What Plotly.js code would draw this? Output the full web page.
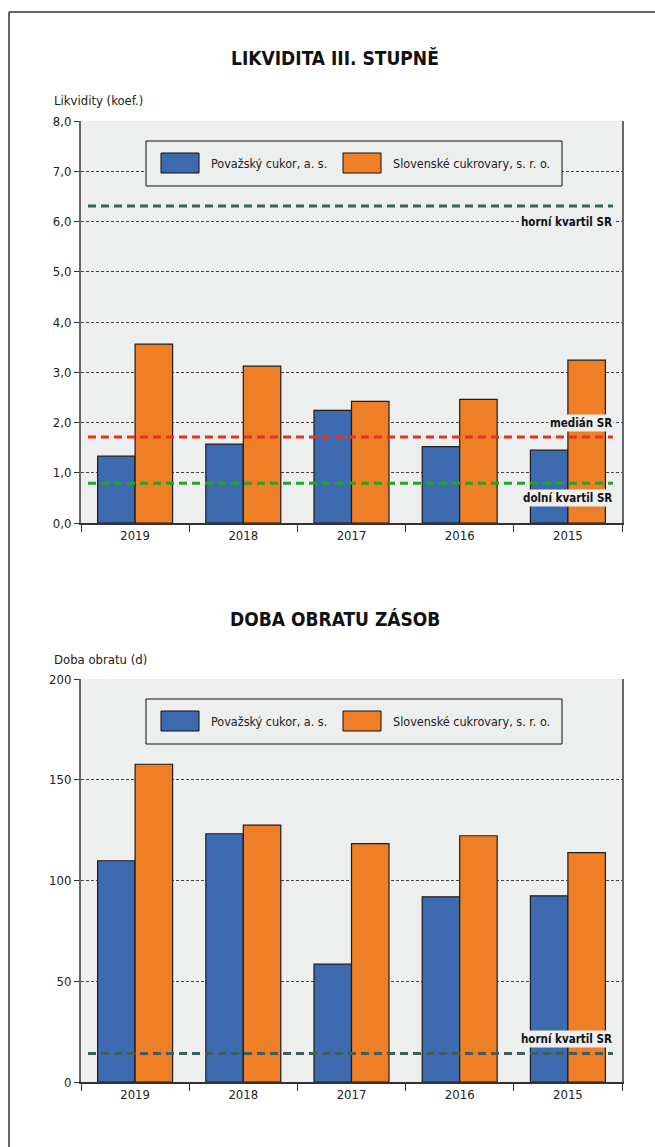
<!DOCTYPE html>
<html>
<head>
<meta charset="utf-8">
<script src="https://cdn.plot.ly/plotly-3.0.1.min.js"></script>
<style>html,body{margin:0;padding:0;background:#fff;}#chart{width:655px;height:1147px;}</style>
</head>
<body>
<div id="chart"></div>
<script>
// ---- data ----
const years = ['2019', '2018', '2017', '2016', '2015'];
const seriesNames = ['Považský cukor, a. s.', 'Slovenské cukrovary, s. r. o.'];

const liqPovazsky = [1.33, 1.57, 2.24, 1.52, 1.45];
const liqSlovenske = [3.56, 3.12, 2.42, 2.46, 3.24];
const liqRefNames = ['horní kvartil SR', 'medián SR', 'dolní kvartil SR'];
const liqRefValues = [6.31, 1.71, 0.79];
const liqLabelPos = [6.0, 2.0, 0.5];

const turnPovazsky = [109.8, 123.2, 58.5, 91.9, 92.4];
const turnSlovenske = [157.7, 127.5, 118.3, 122.2, 113.8];
const turnRefNames = ['horní kvartil SR'];
const turnRefValues = [14.1];
const turnLabelPos = [21.5];

const titles = ['LIKVIDITA III. STUPNĚ', 'DOBA OBRATU ZÁSOB'];
const yTitles = ['Likvidity (koef.)', 'Doba obratu (d)'];

// ---- layout helpers ----
const W = 655, H = 1147;
const px = x => x / W;
const py = y => 1 - y / H;
const FONT = '"DejaVu Sans Condensed", "Liberation Sans Narrow", "Arial Narrow", sans-serif';
const BLUE = '#3E6AAF', ORANGE = '#EE7F26', PLOTBG = '#EDEEEE';
const refColors1 = ['#3F5F5F', '#E8321E', '#22A32A'];
const refColors2 = ['#3F5F5F'];

const plotTop = [121, 679], plotBot = [523, 1082];

const traces = [
  {type: 'bar', x: years, y: liqPovazsky, name: seriesNames[0], xaxis: 'x', yaxis: 'y',
   marker: {color: BLUE, line: {color: '#1c1c1c', width: 1.2}}, showlegend: false},
  {type: 'bar', x: years, y: liqSlovenske, name: seriesNames[1], xaxis: 'x', yaxis: 'y',
   marker: {color: ORANGE, line: {color: '#1c1c1c', width: 1.2}}, showlegend: false},
  {type: 'bar', x: years, y: turnPovazsky, name: seriesNames[0], xaxis: 'x2', yaxis: 'y2',
   marker: {color: BLUE, line: {color: '#1c1c1c', width: 1.2}}, showlegend: false},
  {type: 'bar', x: years, y: turnSlovenske, name: seriesNames[1], xaxis: 'x2', yaxis: 'y2',
   marker: {color: ORANGE, line: {color: '#1c1c1c', width: 1.2}}, showlegend: false}
];

const shapes = [];
const annotations = [];

// outer frame (open at right and bottom)
shapes.push({type: 'line', xref: 'paper', yref: 'paper', x0: px(9), x1: px(700), y0: py(12), y1: py(12), line: {color: '#333', width: 1.5}});
shapes.push({type: 'line', xref: 'paper', yref: 'paper', x0: px(9), x1: px(9), y0: py(12), y1: py(1200), line: {color: '#333', width: 1.5}});

function addRefs(names, values, labelPos, colors, yref) {
  values.forEach((v, i) => {
    shapes.push({type: 'line', xref: 'paper', yref: yref, x0: px(88), x1: px(613), y0: v, y1: v,
      line: {color: colors[i], width: 3, dash: '8px,5px'}, layer: 'above'});
    annotations.push({xref: 'paper', yref: yref, x: px(614), y: labelPos[i], xanchor: 'right', yanchor: 'middle',
      text: names[i], showarrow: false, bgcolor: PLOTBG, borderpad: 1,
      font: {family: FONT, size: 11.5, color: '#111', weight: 'bold'}});
  });
}
addRefs(liqRefNames, liqRefValues, liqLabelPos, refColors1, 'y');
addRefs(turnRefNames, turnRefValues, turnLabelPos, refColors2, 'y2');

// custom legends, titles, y titles
[0, 1].forEach(k => {
  const off = k === 0 ? 0 : 558;
  shapes.push({type: 'rect', xref: 'paper', yref: 'paper', x0: px(146), x1: px(562), y0: py(141 + off), y1: py(186 + off),
    fillcolor: PLOTBG, line: {color: '#111', width: 1}, layer: 'above'});
  shapes.push({type: 'rect', xref: 'paper', yref: 'paper', x0: px(161), x1: px(199), y0: py(153 + off), y1: py(173 + off),
    fillcolor: BLUE, line: {color: '#111', width: 1}, layer: 'above'});
  shapes.push({type: 'rect', xref: 'paper', yref: 'paper', x0: px(343), x1: px(381), y0: py(153 + off), y1: py(173 + off),
    fillcolor: ORANGE, line: {color: '#111', width: 1}, layer: 'above'});
  annotations.push({xref: 'paper', yref: 'paper', x: px(209), y: py(163 + off), xanchor: 'left', yanchor: 'middle',
    text: seriesNames[0], showarrow: false, font: {family: FONT, size: 12.5, color: '#222'}});
  annotations.push({xref: 'paper', yref: 'paper', x: px(391), y: py(163 + off), xanchor: 'left', yanchor: 'middle',
    text: seriesNames[1], showarrow: false, font: {family: FONT, size: 12.5, color: '#222'}});
  annotations.push({xref: 'paper', yref: 'paper', x: px(335), y: py(k === 0 ? 58 : 619), xanchor: 'center', yanchor: 'middle',
    text: titles[k], showarrow: false, font: {family: FONT, size: 19, color: '#111', weight: 'bold'}});
  annotations.push({xref: 'paper', yref: 'paper', x: px(52), y: py(k === 0 ? 101 : 659), xanchor: 'left', yanchor: 'middle',
    text: yTitles[k], showarrow: false, font: {family: FONT, size: 13, color: '#222'}});
});

const xCommon = {
  type: 'category', domain: [px(81), px(622)], showgrid: false, showline: true, linecolor: '#333', linewidth: 1.5,
  ticks: 'outside', tickson: 'boundaries', ticklen: 7, tickcolor: '#333', tickwidth: 1,
  tickfont: {family: FONT, size: 13, color: '#222'}, fixedrange: true
};
const yCommon = {
  showgrid: true, gridcolor: '#444', gridwidth: 1, griddash: '3px,2px', showline: true, mirror: true,
  linecolor: '#666', linewidth: 2, ticks: 'outside', ticklen: 5, tickcolor: '#333',
  tickfont: {family: FONT, size: 13, color: '#222'}, zeroline: false, fixedrange: true
};

const layout = {
  width: W, height: H, margin: {l: 0, r: 0, t: 0, b: 0},
  paper_bgcolor: '#fff', plot_bgcolor: PLOTBG,
  barmode: 'group', bargap: 0.307, bargroupgap: 0,
  separators: ', ',
  xaxis: Object.assign({}, xCommon, {anchor: 'y'}),
  yaxis: Object.assign({}, yCommon, {anchor: 'x', domain: [py(plotBot[0]), py(plotTop[0])], range: [0, 8], dtick: 1, tickformat: '.1f'}),
  xaxis2: Object.assign({}, xCommon, {anchor: 'y2'}),
  yaxis2: Object.assign({}, yCommon, {anchor: 'x2', domain: [py(plotBot[1]), py(plotTop[1])], range: [0, 200], dtick: 50}),
  shapes: shapes, annotations: annotations, font: {family: FONT}
};

Plotly.newPlot('chart', traces, layout, {displayModeBar: false, staticPlot: true});
</script>
</body>
</html>
